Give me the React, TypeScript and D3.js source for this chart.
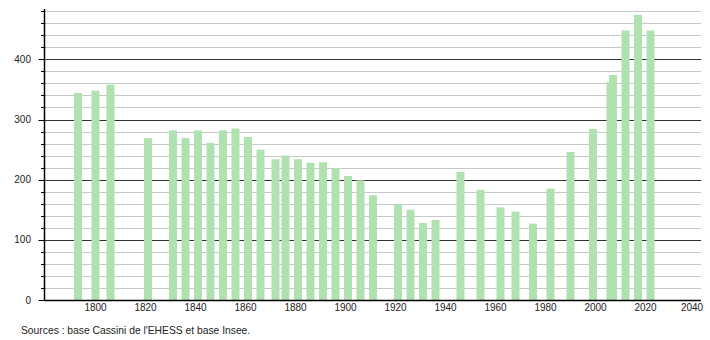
import React from "react";
import * as d3 from "d3";

const years = [1793, 1800, 1806, 1821, 1831, 1836, 1841, 1846, 1851, 1856, 1861, 1866, 1872, 1876, 1881, 1886, 1891, 1896, 1901, 1906, 1911, 1921, 1926, 1931, 1936, 1946, 1954, 1962, 1968, 1975, 1982, 1990, 1999, 2006, 2007, 2012, 2017, 2022];
const population = [344, 348, 358, 269, 282, 269, 282, 261, 282, 285, 271, 250, 234, 240, 234, 228, 229, 219, 206, 199, 174, 159, 150, 128, 133, 213, 183, 154, 147, 127, 185, 246, 284, 362, 374, 448, 474, 448];
const xTickLabels = [1800, 1820, 1840, 1860, 1880, 1900, 1920, 1940, 1960, 1980, 2000, 2020, 2040];
const yTickLabels = [0, 100, 200, 300, 400];
const source = "Sources : base Cassini de l'EHESS et base Insee.";

export default function App() {
  const W = 710, H = 340;
  const x = d3.scaleLinear().domain([1779.4, 2042.2]).range([44, 701]);
  const y = d3.scaleLinear().domain([0, 482]).range([300, 10]);
  const minor = d3.range(20, 481, 20).filter((v) => v % 100 !== 0);
  const barW = 8;
  const font = "'Liberation Sans', Arial, sans-serif";
  return (
    <svg width={W} height={H} style={{ position: "absolute", left: 0, top: 0 }}>
      <rect width={W} height={H} fill="#fff" />
      {minor.map((v) => (
        <g key={"m" + v}>
          <line x1={44} x2={701} y1={Math.round(y(v)) + 0.5} y2={Math.round(y(v)) + 0.5} stroke="#c8c8c8" strokeWidth={1} />
          <line x1={41} x2={44} y1={Math.round(y(v)) + 0.5} y2={Math.round(y(v)) + 0.5} stroke="#000" strokeWidth={1} />
        </g>
      ))}
      {yTickLabels.filter((v) => v > 0).map((v) => (
        <line key={"M" + v} x1={44} x2={701} y1={Math.round(y(v)) + 0.5} y2={Math.round(y(v)) + 0.5} stroke="#333" strokeWidth={1} />
      ))}
      {years.map((yr, i) => (
        <rect key={yr} x={x(yr) - barW / 2} y={y(population[i])} width={barW} height={y(0) - y(population[i])} fill="#b0e1b0" />
      ))}
      {yTickLabels.map((v) => (
        <g key={"t" + v}>
          <line x1={38.5} x2={44} y1={Math.round(y(v)) + 0.5} y2={Math.round(y(v)) + 0.5} stroke="#000" strokeWidth={1} />
          <text x={31} y={y(v) + 3.5} textAnchor="end" fontSize={10} fontFamily={font} fill="#222">{v}</text>
        </g>
      ))}
      <line x1={44.5} x2={44.5} y1={9} y2={300.5} stroke="#000" strokeWidth={1.5} />
      <line x1={44} x2={701} y1={300.5} y2={300.5} stroke="#000" strokeWidth={1.3} />
      {xTickLabels.map((v) => (
        <text key={"x" + v} x={Math.min(x(v), 692)} y={311} textAnchor="middle" fontSize={10} fontFamily={font} fill="#222">{v}</text>
      ))}
      <text x={21} y={334} fontSize={10.3} fontFamily={font} fill="#222">{source}</text>
    </svg>
  );
}
